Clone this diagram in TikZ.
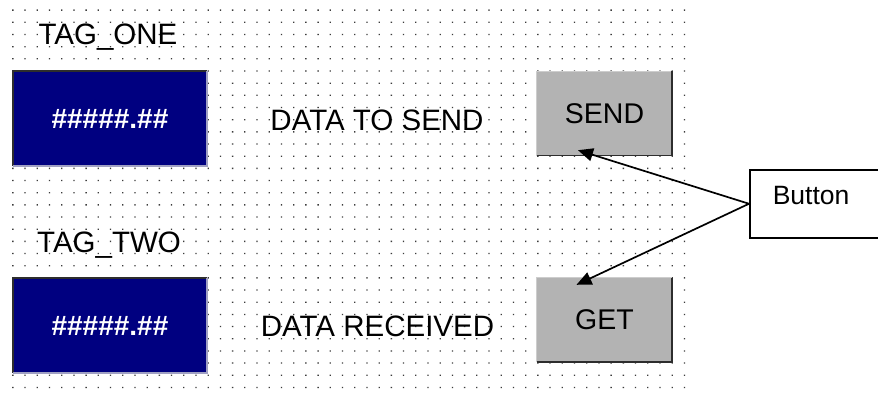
\documentclass[tikz,border=0pt]{standalone}
\usepackage{fontspec}
\setmainfont{Liberation Sans}
\usetikzlibrary{arrows.meta,positioning}
\definecolor{navyfill}{RGB}{0,0,128}
\definecolor{btngray}{RGB}{179,179,179}
\definecolor{dotgray}{RGB}{60,60,60}
\definecolor{edgedark}{RGB}{45,45,45}
\definecolor{edgelight}{RGB}{205,205,205}
\definecolor{edgeblue}{RGB}{160,160,195}
\tikzset{
  lbl/.style={font=\fontsize{29.5}{33}\selectfont, inner sep=0pt, anchor=base},
  valbox/.style={fill=navyfill, text=white, font=\bfseries\fontsize{28}{32}\selectfont,
    minimum width=194pt, minimum height=95pt, inner sep=0pt},
  btnface/.style={fill=btngray, font=\fontsize{28.5}{32}\selectfont,
    minimum width=135pt, minimum height=84pt, inner sep=0pt},
  callout/.style={draw, line width=1.5pt, fill=white, font=\fontsize{26.5}{30}\selectfont,
    anchor=north west, text width=94pt, align=left, inner xsep=23pt, inner ysep=16.5pt,
    text height=18pt, text depth=17pt},
  pointer/.style={line width=1.7pt, -{Triangle[length=15pt,width=13pt]}}
}
\begin{document}
\begin{tikzpicture}[x=1pt,y=-1pt]
\clip (0,0) rectangle (878,396);
\fill[white] (0,0) rectangle (878,396);
% dot grid
\fill[dotgray] \foreach \i in {0,...,55} {\foreach \j in {0,...,31} {
  ({12.2+\i*12.21},{9.5+\j*12.17}) rectangle ++(1.3,1.3)}};
% tags and values
\node[lbl] (tagone) at (108,45) {TAG\_ONE};
\node[valbox] (valone) at (110,118.5) {\#\#\#\#\#.\#\#};
\node[lbl] (tagtwo) at (109,252.5) {TAG\_TWO};
\node[valbox] (valtwo) at (110,325.5) {\#\#\#\#\#.\#\#};
\foreach \v in {valone,valtwo} {
  \draw[edgedark, line width=1.5pt] (\v.south west) -- (\v.north west) -- (\v.north east);
  \draw[edgeblue, line width=1.5pt] (\v.north east) -- (\v.south east) -- (\v.south west);
}
% middle texts
\node[lbl] (sendlbl) at (377,130) {DATA TO SEND};
\node[lbl] (getlbl) at (377.5,336.5) {DATA RECEIVED};
% buttons
\node[btnface] (send) at (604.5,113.5) {SEND};
\node[btnface] (get) at (604.5,320) {GET};
\foreach \b in {send,get} {
  \draw[edgelight, line width=1.2pt] (\b.south west) -- (\b.north west) -- (\b.north east);
  \draw[edgedark, line width=1.5pt] (\b.north east) -- (\b.south east) -- (\b.south west);
}
% callout
\node[callout] (btn) at (749,169) {Button};
\draw[pointer] (btn.west) -- ([xshift=-26.5pt,yshift=5.5pt]send.south);
\draw[pointer] (btn.west) -- ([xshift=-28pt,yshift=-7pt]get.north);
\end{tikzpicture}
\end{document}
